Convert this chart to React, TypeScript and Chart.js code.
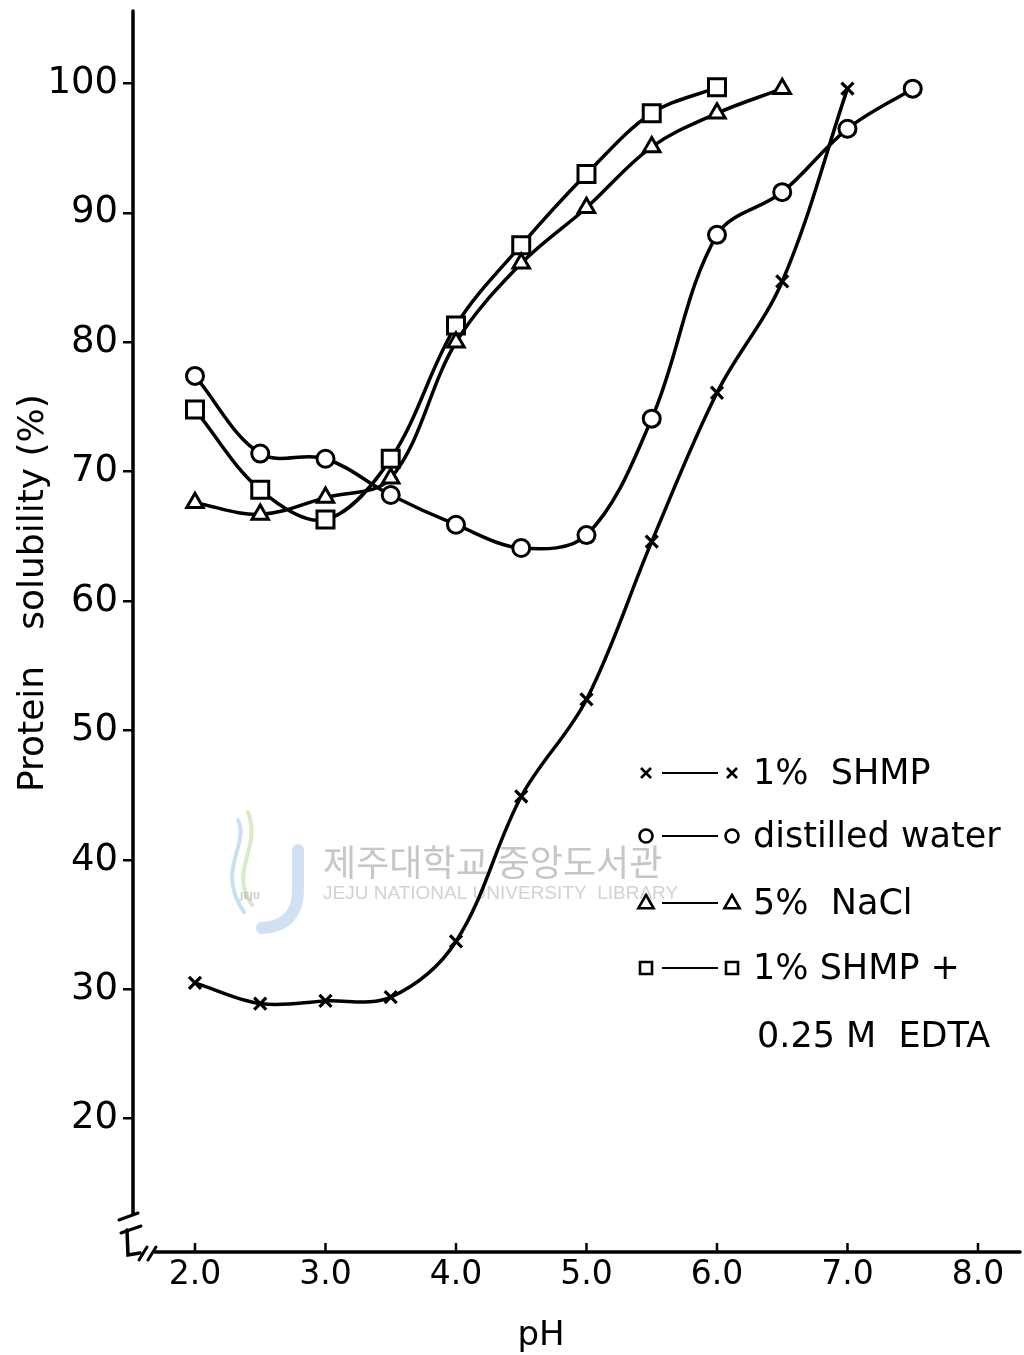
import React, { useEffect, useRef } from 'react';
import { Chart, registerables } from 'chart.js';

Chart.register(...registerables);

// ---- data ----
const phShmp = [2.0, 2.5, 3.0, 3.5, 4.0, 4.5, 5.0, 5.5, 6.0, 6.5, 7.0];
const solShmp = [30.5, 28.9, 29.1, 29.4, 33.7, 44.9, 52.4, 64.6, 76.1, 84.7, 99.6];

const phWater = [2.0, 2.5, 3.0, 3.5, 4.0, 4.5, 5.0, 5.5, 6.0, 6.5, 7.0, 7.5];
const solWater = [77.4, 71.4, 71.0, 68.2, 65.9, 64.1, 65.1, 74.1, 88.3, 91.6, 96.5, 99.6];

const phNacl = [2.0, 2.5, 3.0, 3.5, 4.0, 4.5, 5.0, 5.5, 6.0, 6.5];
const solNacl = [67.6, 66.7, 68.0, 69.5, 80.0, 86.1, 90.4, 95.1, 97.7, 99.6];

const phEdta = [2.0, 2.5, 3.0, 3.5, 4.0, 4.5, 5.0, 5.5, 6.0];
const solEdta = [74.8, 68.6, 66.3, 71.0, 81.3, 87.5, 93.0, 97.7, 99.7];

const xTickValues = [2, 3, 4, 5, 6, 7, 8];
const yTickValues = [20, 30, 40, 50, 60, 70, 80, 90, 100];

const seriesNames = ['1% SHMP', 'distilled water', '5% NaCl', '1% SHMP + 0.25M EDTA'];
const legendLines = [['1%  SHMP'], ['distilled water'], ['5%  NaCl'], ['1% SHMP +', '0.25 M  EDTA']];
const markerStyles = ['crossRot', 'circle', 'triangle', 'rect'];

const xAxisTitle = 'pH';
const yAxisTitleParts = ['Protein', 'solubility (%)'];
const watermarkKo = '제주대학교 중앙도서관';
const watermarkEn = 'JEJU NATIONAL UNIVERSITY  LIBRARY';

const FONT = '"DejaVu Sans", "Liberation Sans", sans-serif';

function toPoints(xs: number[], ys: number[]) {
  return xs.map((x, i) => ({ x, y: ys[i] }));
}

function drawMarker(ctx: CanvasRenderingContext2D, style: string, x: number, y: number, r: number) {
  ctx.beginPath();
  if (style === 'circle') {
    ctx.arc(x, y, r, 0, Math.PI * 2);
    ctx.fillStyle = '#fff';
    ctx.fill();
    ctx.stroke();
  } else if (style === 'rect') {
    ctx.rect(x - r, y - r, 2 * r, 2 * r);
    ctx.fillStyle = '#fff';
    ctx.fill();
    ctx.stroke();
  } else if (style === 'triangle') {
    ctx.moveTo(x, y - r);
    ctx.lineTo(x + r * 0.95, y + r * 0.65);
    ctx.lineTo(x - r * 0.95, y + r * 0.65);
    ctx.closePath();
    ctx.fillStyle = '#fff';
    ctx.fill();
    ctx.stroke();
  } else {
    ctx.moveTo(x - r, y - r);
    ctx.lineTo(x + r, y + r);
    ctx.moveTo(x + r, y - r);
    ctx.lineTo(x - r, y + r);
    ctx.stroke();
  }
}

function seg(ctx: CanvasRenderingContext2D, x1: number, y1: number, x2: number, y2: number) {
  ctx.beginPath();
  ctx.moveTo(x1, y1);
  ctx.lineTo(x2, y2);
  ctx.stroke();
}

const decorPlugin = {
  id: 'decor',
  beforeDatasetsDraw(chart: any) {
    const ctx: CanvasRenderingContext2D = chart.ctx;
    ctx.save();
    // watermark logo (approximate)
    ctx.lineCap = 'round';
    ctx.strokeStyle = 'rgba(165,195,230,0.5)';
    ctx.lineWidth = 12;
    ctx.beginPath();
    ctx.moveTo(298, 850);
    ctx.lineTo(298, 890);
    ctx.quadraticCurveTo(298, 926, 262, 928);
    ctx.stroke();
    ctx.lineWidth = 4;
    ctx.strokeStyle = 'rgba(190,220,160,0.6)';
    ctx.beginPath();
    ctx.moveTo(252, 905);
    ctx.bezierCurveTo(228, 870, 262, 850, 248, 812);
    ctx.stroke();
    ctx.strokeStyle = 'rgba(160,205,230,0.6)';
    ctx.beginPath();
    ctx.moveTo(244, 912);
    ctx.bezierCurveTo(215, 870, 250, 845, 238, 820);
    ctx.stroke();
    ctx.fillStyle = 'rgba(170,170,170,0.6)';
    ctx.font = `bold 9px ${FONT}`;
    ctx.textAlign = 'center';
    ctx.textBaseline = 'middle';
    ctx.fillText('JEJU', 250, 897);
    // watermark text
    ctx.textAlign = 'left';
    ctx.fillStyle = '#c6c6c6';
    ctx.font = '36px "Noto Sans CJK KR", sans-serif';
    ctx.fillText(watermarkKo, 323, 862, 378);
    ctx.fillStyle = '#d2d2d2';
    ctx.font = '19px "Liberation Sans", sans-serif';
    ctx.fillText(watermarkEn, 323, 894, 398);
    ctx.restore();
  },
  afterDraw(chart: any) {
    const ctx: CanvasRenderingContext2D = chart.ctx;
    const a = chart.chartArea;
    const xs = chart.scales.x;
    const L = a.left;
    const B = a.bottom;
    ctx.save();
    ctx.strokeStyle = '#000';
    ctx.lineCap = 'round';
    ctx.lineWidth = 3.5;
    // y axis with break
    seg(ctx, L, a.top, L, B - 38);
    ctx.lineWidth = 3;
    seg(ctx, L - 14, B - 32, L + 5, B - 39);
    seg(ctx, L - 12, B - 19, L + 8, B - 26);
    ctx.lineWidth = 3.5;
    ctx.beginPath();
    ctx.moveTo(L - 6, B - 22);
    ctx.lineTo(L - 5, B + 3);
    ctx.lineTo(L + 7, B + 1);
    ctx.stroke();
    ctx.lineWidth = 3;
    seg(ctx, L + 6, B + 8, L + 14, B - 5);
    seg(ctx, L + 15, B + 8, L + 23, B - 5);
    ctx.lineWidth = 3.5;
    seg(ctx, L + 22, B, a.right, B);
    // x ticks pointing inward
    ctx.lineWidth = 2.5;
    ctx.lineCap = 'butt';
    xTickValues.forEach((v) => {
      const px = xs.getPixelForValue(v);
      seg(ctx, px, B, px, B - 9);
    });
    // axis titles
    ctx.fillStyle = '#000';
    ctx.font = `34px ${FONT}`;
    ctx.textAlign = 'center';
    ctx.textBaseline = 'alphabetic';
    ctx.fillText(xAxisTitle, 541, 1345);
    ctx.font = `36px ${FONT}`;
    const yCenters = [729, 512];
    yAxisTitleParts.forEach((t, i) => {
      ctx.save();
      ctx.translate(43, yCenters[i]);
      ctx.rotate(-Math.PI / 2);
      ctx.fillText(t, 0, 0);
      ctx.restore();
    });
    // legend
    const rows = [773, 836, 903, 968];
    const legendR = [5, 6.5, 8, 6];
    ctx.font = `35px ${FONT}`;
    ctx.textAlign = 'left';
    ctx.textBaseline = 'middle';
    rows.forEach((y, i) => {
      ctx.strokeStyle = '#000';
      ctx.lineWidth = 2.2;
      ctx.lineCap = 'butt';
      seg(ctx, 662, y, 718, y);
      ctx.lineWidth = 2.6;
      drawMarker(ctx, markerStyles[i], 646, y, legendR[i]);
      drawMarker(ctx, markerStyles[i], 732, y, legendR[i]);
      ctx.fillStyle = '#000';
      legendLines[i].forEach((t, j) => {
        ctx.fillText(t, j === 0 ? 753 : 757, y + 2 + j * 68);
      });
    });
    ctx.restore();
  },
};

const common = {
  borderColor: '#000',
  borderWidth: 3.5,
  pointBackgroundColor: '#fff',
  pointBorderColor: '#000',
  pointBorderWidth: 3,
  tension: 0.35,
  fill: false,
};

export default function App() {
  const canvasRef = useRef<HTMLCanvasElement | null>(null);

  useEffect(() => {
    const canvas = canvasRef.current;
    if (!canvas) return;
    const chart = new Chart(canvas, {
      type: 'line',
      data: {
        datasets: [
          { ...common, label: seriesNames[0], data: toPoints(phShmp, solShmp), pointStyle: 'crossRot', pointRadius: 8.5, pointBorderWidth: 3.2 },
          { ...common, label: seriesNames[1], data: toPoints(phWater, solWater), pointStyle: 'circle', pointRadius: 8.5 },
          { ...common, label: seriesNames[2], data: toPoints(phNacl, solNacl), pointStyle: 'triangle', pointRadius: 9.5 },
          { ...common, label: seriesNames[3], data: toPoints(phEdta, solEdta), pointStyle: 'rect', pointRadius: 12 },
        ] as any,
      },
      options: {
        animation: false,
        responsive: false,
        devicePixelRatio: 1,
        layout: { autoPadding: false, padding: { top: 11, right: 4, left: 0, bottom: 0 } },
        plugins: { legend: { display: false }, tooltip: { enabled: false } },
        scales: {
          x: {
            type: 'linear',
            min: 1.525,
            max: 8.322,
            afterBuildTicks: (s: any) => {
              s.ticks = xTickValues.map((v) => ({ value: v }));
            },
            afterFit: (s: any) => {
              s.height = 103;
              s.paddingLeft = 0;
              s.paddingRight = 0;
            },
            grid: { display: false, drawTicks: false },
            border: { display: false },
            ticks: {
              autoSkip: false,
              maxRotation: 0,
              padding: 4,
              color: '#000',
              font: { family: FONT, size: 33 },
              callback: (v: any) => Number(v).toFixed(1),
            },
          },
          y: {
            type: 'linear',
            min: 9.7,
            max: 105.6,
            afterBuildTicks: (s: any) => {
              s.ticks = yTickValues.map((v) => ({ value: v }));
            },
            afterFit: (s: any) => {
              s.width = 133;
              s.paddingTop = 0;
              s.paddingBottom = 0;
            },
            grid: { display: true, drawOnChartArea: false, drawTicks: true, tickLength: 10, color: '#000', lineWidth: 2.5 },
            border: { display: false },
            ticks: {
              autoSkip: false,
              padding: 5,
              color: '#000',
              font: { family: FONT, size: 37 },
              callback: (v: any) => String(v),
            },
          },
        },
      } as any,
      plugins: [decorPlugin as any],
    });
    return () => chart.destroy();
  }, []);

  return (
    <div style={{ position: 'absolute', left: 0, top: 0, width: 1024, height: 1355, background: '#fff' }}>
      <canvas ref={canvasRef} width={1024} height={1355} style={{ display: 'block', width: 1024, height: 1355 }} />
    </div>
  );
}
